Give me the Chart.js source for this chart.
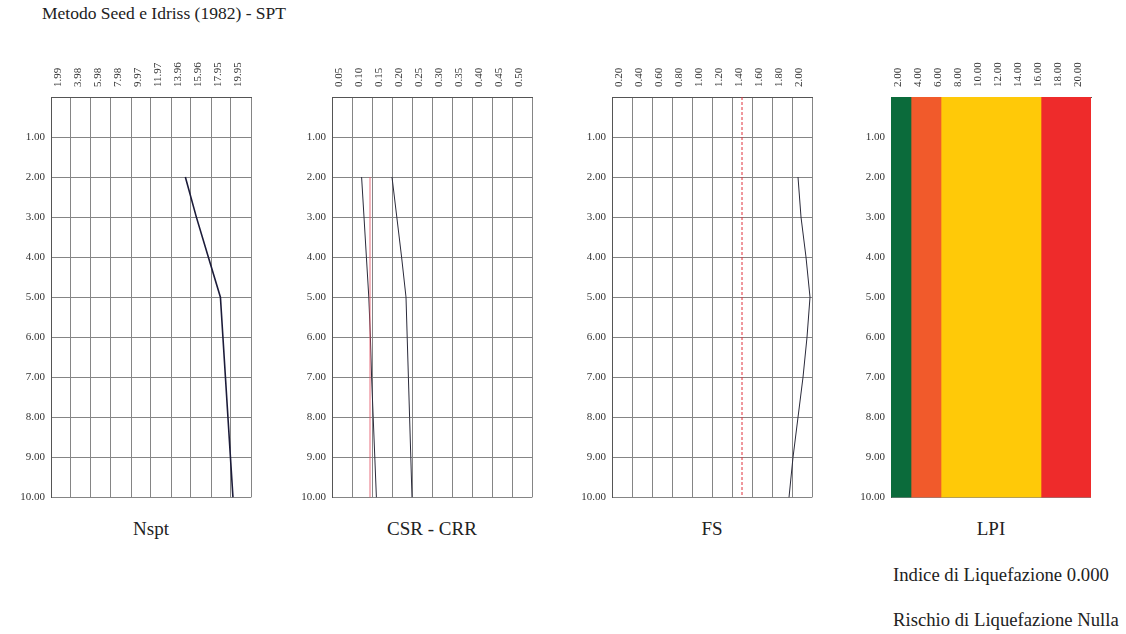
<!DOCTYPE html>
<html lang="it">
<head>
    <meta charset="UTF-8">
    <title>Metodo Seed e Idriss (1982) - SPT</title>
    <style>
        body { margin: 0; background: #fff; font-family: "Liberation Serif", "DejaVu Serif", serif; color: #222; }
        #page { position: relative; width: 1126px; height: 634px; }
        .title { position: absolute; left: 42px; top: 3px; font-size: 17.5px; }
        .panel { position: absolute; top: 40px; }
        .label { position: absolute; top: 518px; width: 200px; text-align: center; font-size: 19px; }
        .note { position: absolute; left: 893px; font-size: 18.7px; white-space: nowrap; }
    </style>
    <script src="https://cdn.jsdelivr.net/npm/chart.js"></script>
</head>
<body>
<div id="page">
    <div class="title">Metodo Seed e Idriss (1982) - SPT</div>

    <canvas class="panel" id="cNspt" width="261" height="470" style="left:0px"></canvas>
    <canvas class="panel" id="cCsr" width="261" height="470" style="left:281px"></canvas>
    <canvas class="panel" id="cFs" width="261" height="470" style="left:561px"></canvas>
    <canvas class="panel" id="cLpi" width="261" height="470" style="left:840px"></canvas>

    <div class="label" style="left:51px">Nspt</div>
    <div class="label" style="left:332px">CSR - CRR</div>
    <div class="label" style="left:612px">FS</div>
    <div class="label" style="left:891px">LPI</div>

    <div class="note" style="top:564px">Indice di Liquefazione 0.000</div>
    <div class="note" style="top:609px">Rischio di Liquefazione Nulla</div>
</div>

<script>
    // profondità (m)
    const depthTicks = [1, 2, 3, 4, 5, 6, 7, 8, 9, 10];
    const depthLabels = ['1.00', '2.00', '3.00', '4.00', '5.00', '6.00', '7.00', '8.00', '9.00', '10.00'];
    const depths = [2, 3, 4, 5, 6, 7, 8, 9, 10];

    // valori
    const nspt = [13.4, 14.5, 15.7, 16.9, 17.15, 17.4, 17.65, 17.9, 18.15];
    const csr = [0.074, 0.080, 0.086, 0.092, 0.096, 0.099, 0.103, 0.107, 0.111];
    const crr = [0.150, 0.162, 0.174, 0.185, 0.188, 0.191, 0.194, 0.197, 0.200];
    const fs = [1.86, 1.89, 1.94, 1.98, 1.95, 1.91, 1.86, 1.81, 1.77];
    const csrRef = 0.095;   // linea rossa CSR
    const fsLimit = 1.3;    // linea rossa FS
    const limitDepths = [2, 10];

    // etichette degli assi superiori
    const nsptLabels = ['1.99', '3.98', '5.98', '7.98', '9.97', '11.97', '13.96', '15.96', '17.95', '19.95'];
    const csrLabels = ['0.05', '0.10', '0.15', '0.20', '0.25', '0.30', '0.35', '0.40', '0.45', '0.50'];
    const fsLabels = ['0.20', '0.40', '0.60', '0.80', '1.00', '1.20', '1.40', '1.60', '1.80', '2.00'];
    const lpiLabels = ['2.00', '4.00', '6.00', '8.00', '10.00', '12.00', '14.00', '16.00', '18.00', '20.00'];

    // classi LPI
    const lpiBands = [[0, 2], [2, 5], [5, 15], [15, 20]];
    const lpiColors = ['#0b6b3b', '#f15a2b', '#ffc908', '#ee2b2b'];

    const tickFont = { family: 'Liberation Serif', size: 11 };
    const gridColor = '#858585';

    function xScale(labels, max, grid) {
        return {
            type: 'linear',
            position: 'top',
            min: 0,
            max: max,
            afterBuildTicks: s => { s.ticks = labels.map(l => ({ value: parseFloat(l) })); },
            afterFit: s => { s.height = 57; },
            ticks: {
                callback: (v, i) => labels[i],
                minRotation: 90, maxRotation: 90,
                font: tickFont, color: '#333', padding: 10
            },
            grid: { display: grid, color: gridColor, drawTicks: false },
            border: { color: '#555' }
        };
    }

    function depthScale() {
        return {
            type: 'linear',
            position: 'left',
            min: 0,
            max: 10,
            reverse: true,
            offset: false,
            afterBuildTicks: s => { s.ticks = depthTicks.map(v => ({ value: v })); },
            afterFit: s => { s.width = 51; },
            ticks: { callback: (v, i) => depthLabels[i], font: tickFont, color: '#333', padding: 6 },
            grid: { color: gridColor, drawTicks: false, offset: false },
            border: { color: '#555' }
        };
    }

    function line(values, ys, color, width, dash) {
        return {
            data: values.map((v, i) => ({ x: v, y: ys[i] })),
            borderColor: color,
            borderWidth: width,
            borderDash: dash || [],
            pointRadius: 0,
            fill: false,
            tension: 0
        };
    }

    const baseOptions = {
        responsive: false,
        animation: false,
        layout: { padding: { right: 10, bottom: 12 } },
        plugins: { legend: { display: false }, tooltip: { enabled: false } }
    };

    new Chart(document.getElementById('cNspt'), {
        type: 'line',
        data: { datasets: [line(nspt, depths, '#1c1c3a', 1.6)] },
        options: { ...baseOptions, scales: { x: xScale(nsptLabels, 19.95, true), y: depthScale() } }
    });

    new Chart(document.getElementById('cCsr'), {
        type: 'line',
        data: {
            datasets: [
                line([csrRef, csrRef], limitDepths, 'rgba(230,80,100,0.55)', 1.5),
                line(csr, depths, '#2a2a3a', 1),
                line(crr, depths, '#2a2a3a', 1)
            ]
        },
        options: { ...baseOptions, scales: { x: xScale(csrLabels, 0.5, true), y: depthScale() } }
    });

    new Chart(document.getElementById('cFs'), {
        type: 'line',
        data: {
            datasets: [
                line([fsLimit, fsLimit], [0, 10], '#e0303a', 1, [3, 2]),
                line(fs, depths, '#2a2a3a', 1)
            ]
        },
        options: { ...baseOptions, scales: { x: xScale(fsLabels, 2, true), y: depthScale() } }
    });

    new Chart(document.getElementById('cLpi'), {
        type: 'bar',
        data: {
            labels: ['LPI'],
            datasets: lpiBands.map((b, i) => ({
                data: [b],
                backgroundColor: lpiColors[i],
                borderWidth: 0,
                barPercentage: 1,
                categoryPercentage: 1,
                grouped: false
            }))
        },
        options: {
            ...baseOptions,
            indexAxis: 'y',
            scales: {
                x: xScale(lpiLabels, 20, false),
                y: { type: 'category', display: false },
                depth: depthScale()
            }
        }
    });
</script>
</body>
</html>
